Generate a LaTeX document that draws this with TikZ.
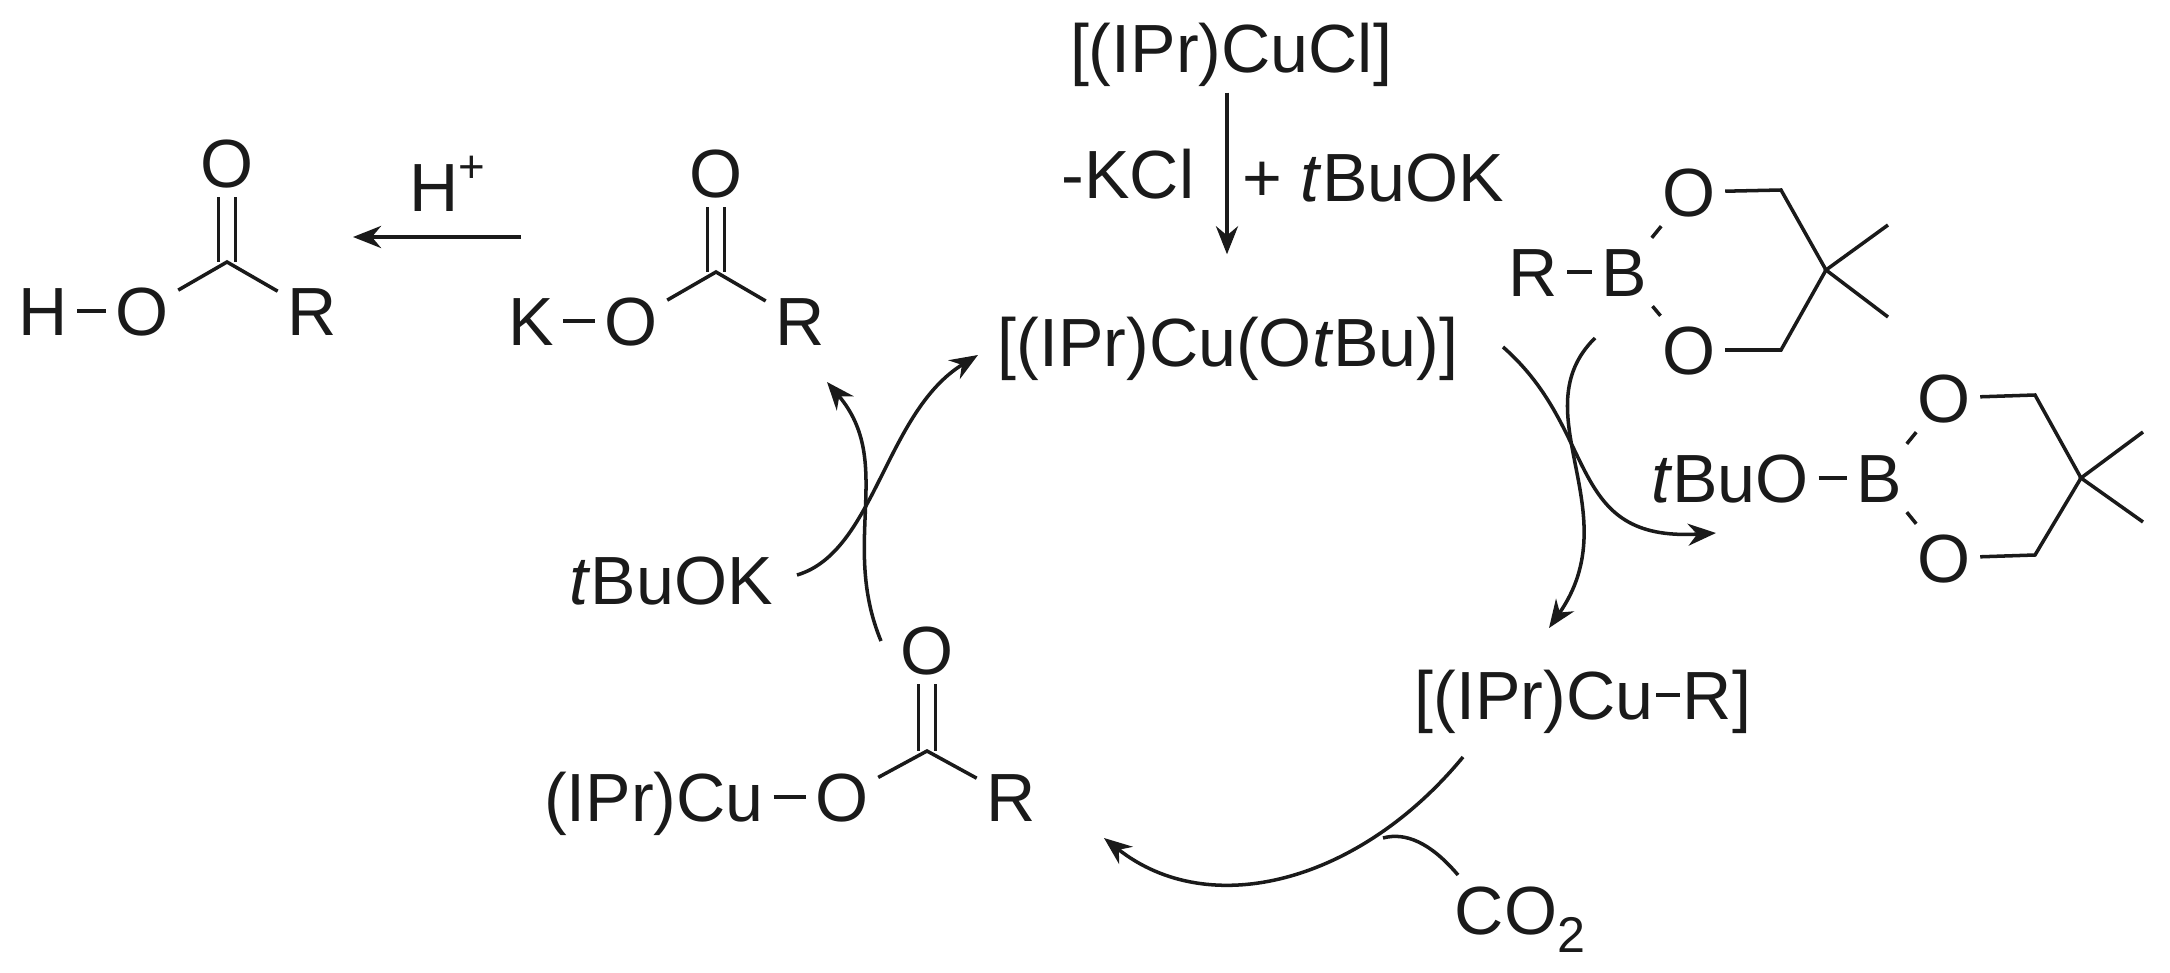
\documentclass[tikz,border=0pt]{standalone}
\usepackage{fontspec}
\setmainfont{Liberation Sans}
\usepackage{tikz}
\usetikzlibrary{arrows.meta, positioning, calc}
\definecolor{InkGray}{HTML}{1A1A1A}
\newcommand{\smalltwo}{\raisebox{-0.26em}{\fontsize{14.3pt}{14.3pt}\selectfont 2}}
\newcommand{\smallplus}{\raisebox{0.42em}{\fontsize{13pt}{13pt}\selectfont +}}
\tikzset{
  % Node styles
  chem/.style={font=\fontsize{19.4pt}{22pt}\selectfont, text=InkGray, inner sep=0.09cm, text height=0.49cm, text depth=0pt},
  % Line styles
  bond/.style={line width=1pt, InkGray},
  arrow/.style={-{Stealth[length=2.8mm,width=2.2mm]}, line width=1.2pt, InkGray},
  curvearrow/.style={-{Stealth[length=2.8mm,width=2.2mm]}, line width=1pt, InkGray},
  curveline/.style={line width=1pt, InkGray}
}
\begin{document}
\begin{tikzpicture}
  \useasboundingbox (0,0) rectangle (21.7,9.72);

  % Acid
  \node[chem] (acidO) at (2.27,8.09) {O};
  \coordinate (acidC) at (2.27,7.10);
  \node[chem] (acidH) at (0.43,6.61) {H};
  \node[chem] (acidOH) at (1.42,6.61) {O};
  \node[chem] (acidR) at (3.12,6.61) {R};
  \draw[bond] (acidH) -- (acidOH);
  \draw[bond] (acidOH) -- (acidC) -- (acidR);
  \draw[bond] ([xshift=-0.085cm]acidO.south) -- ([xshift=-0.085cm]acidC);
  \draw[bond] ([xshift=0.085cm]acidO.south) -- ([xshift=0.085cm]acidC);

  % Protonation
  \node[chem] (proton) at (4.47,7.85) {H\smallplus};
  \coordinate (protonin) at (5.21,7.35);
  \coordinate (protonout) at (3.53,7.35);
  \draw[arrow] (protonin) -- (protonout);

  % Potassium salt
  \node[chem] (saltO) at (7.16,7.99) {O};
  \coordinate (saltC) at (7.16,7.00);
  \node[chem] (saltK) at (5.31,6.51) {K};
  \node[chem] (saltOK) at (6.31,6.51) {O};
  \node[chem] (saltR) at (8.00,6.51) {R};
  \draw[bond] (saltK) -- (saltOK);
  \draw[bond] (saltOK) -- (saltC) -- (saltR);
  \draw[bond] ([xshift=-0.085cm]saltO.south) -- ([xshift=-0.085cm]saltC);
  \draw[bond] ([xshift=0.085cm]saltO.south) -- ([xshift=0.085cm]saltC);

  % Precatalyst
  \node[chem] (cucl) at (12.31,9.235) {[(IPr)CuCl]};
  \node[chem] (cat) at (12.28,6.305) {[(IPr)Cu(O\textit{t}Bu)]};
  \node[chem] (kcl) at (11.28,7.975) {-KCl};
  \node[chem] (base) at (13.73,7.945) {+ \textit{t}BuOK};
  \draw[arrow, shorten <=0.1cm, shorten >=0.53cm] ([xshift=-0.04cm]cucl.south) -- ([xshift=-0.01cm]cat.north);

  % Boronate
  \node[chem] (bR) at (15.33,7.00) {R};
  \node[chem] (bB) at (16.24,7.00) {B};
  \node[chem] (bOa) at (16.89,7.80) {O};
  \node[chem] (bOb) at (16.89,6.22) {O};
  \coordinate (bCa) at (17.81,7.82);
  \coordinate (bCb) at (17.81,6.22);
  \coordinate (bQ) at (18.26,7.02);
  \coordinate (bMa) at (18.88,7.47);
  \coordinate (bMb) at (18.88,6.55);
  \draw[bond] (bR) -- (bB);
  \draw[bond] (bB) -- (bOa);
  \draw[bond] (bB) -- (bOb);
  \draw[bond] (bOa) -- (bCa) -- (bQ) -- (bCb) -- (bOb);
  \draw[bond] (bMa) -- (bQ) -- (bMb);

  % Boron ester
  \node[chem] (eO) at (17.30,4.94) {\textit{t}BuO};
  \node[chem] (eB) at (18.79,4.94) {B};
  \node[chem] (eOa) at (19.44,5.74) {O};
  \node[chem] (eOb) at (19.44,4.14) {O};
  \coordinate (eCa) at (20.35,5.77);
  \coordinate (eCb) at (20.35,4.17);
  \coordinate (eQ) at (20.81,4.94);
  \coordinate (eMa) at (21.43,5.40);
  \coordinate (eMb) at (21.43,4.50);
  \draw[bond] (eO) -- (eB);
  \draw[bond] (eB) -- (eOa);
  \draw[bond] (eB) -- (eOb);
  \draw[bond] (eOa) -- (eCa) -- (eQ) -- (eCb) -- (eOb);
  \draw[bond] (eMa) -- (eQ) -- (eMb);

  % Copper alkyl
  \node[chem, inner xsep=0.02cm] (culeft) at (15.34,2.77) {[(IPr)Cu};
  \node[chem, inner xsep=0.02cm] (curight) at (17.17,2.77) {R]};
  \draw[bond] (culeft) -- (curight);

  % Carbon dioxide
  \node[chem] (co2) at (15.20,0.62) {CO\smalltwo};

  % Copper carboxylate
  \node[chem] (cxCu) at (6.54,1.75) {(IPr)Cu};
  \node[chem] (cxO) at (8.42,1.75) {O};
  \coordinate (cxC) at (9.27,2.21);
  \node[chem] (cxOa) at (9.27,3.22) {O};
  \node[chem] (cxR) at (10.11,1.75) {R};
  \draw[bond] (cxCu) -- (cxO);
  \draw[bond] (cxO) -- (cxC) -- (cxR);
  \draw[bond] ([xshift=-0.085cm]cxOa.south) -- ([xshift=-0.085cm]cxC);
  \draw[bond] ([xshift=0.085cm]cxOa.south) -- ([xshift=0.085cm]cxC);

  % tert-butoxide
  \node[chem] (tbuok) at (6.71,3.92) {\textit{t}BuOK};

  % Curved arrows
  \coordinate (catout) at (15.03,6.25);
  \coordinate (esterin) at (17.16,4.39);
  \coordinate (boronout) at (15.95,6.34);
  \coordinate (alkylin) at (15.49,3.44);
  \coordinate (alkylout) at (14.63,2.15);
  \coordinate (carbin) at (11.04,1.34);
  \coordinate (co2out) at (14.58,0.97);
  \coordinate (co2in) at (13.83,1.34);
  \coordinate (carbout) at (8.81,3.31);
  \coordinate (saltin) at (8.27,5.90);
  \coordinate (tbuout) at (7.97,3.97);
  \coordinate (catin) at (9.78,6.17);
  \draw[curvearrow] (catout) .. controls (16.0,5.4) and (15.65,4.3) .. (esterin);
  \draw[curvearrow] (boronout) .. controls (15.2,5.6) and (16.3,4.6) .. (alkylin);
  \draw[curvearrow] (alkylout) .. controls (13.6,0.9) and (12.1,0.5) .. (carbin);
  \draw[curveline] (co2out) .. controls (14.3,1.3) and (14.05,1.4) .. (co2in);
  \draw[curvearrow] (carbout) .. controls (8.4,4.3) and (8.95,5.1) .. (saltin);
  \draw[curvearrow] (tbuout) .. controls (8.75,4.2) and (8.85,5.6) .. (catin);
\end{tikzpicture}
\end{document}
